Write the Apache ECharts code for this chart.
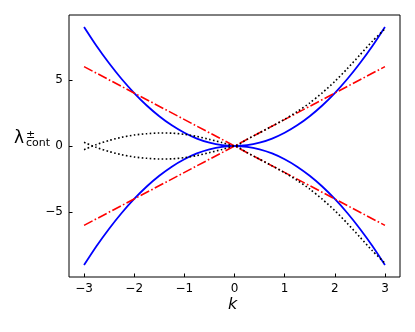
<!DOCTYPE html>
<html>
<head>
<meta charset="utf-8">
<script src="https://cdn.jsdelivr.net/npm/echarts@6/dist/echarts.min.js"></script>
<style>
  html, body { margin: 0; padding: 0; background: #fff; }
  #chart { width: 415px; height: 332px; }
</style>
</head>
<body>
<div id="chart"></div>
<script>
// k samples
var kVals = [-3, -2.75, -2.5, -2.25, -2, -1.75, -1.5, -1.25, -1, -0.75, -0.5, -0.25, 0,
  0.25, 0.5, 0.75, 1, 1.25, 1.5, 1.75, 2, 2.25, 2.5, 2.75, 3]
// blue solid branch (upper one, lower is mirrored)
var blueUpper = [9, 7.56, 6.25, 5.06, 4, 3.06, 2.25, 1.56, 1, 0.56, 0.25, 0.06, 0,
  0.06, 0.25, 0.56, 1, 1.56, 2.25, 3.06, 4, 5.06, 6.25, 7.56, 9]
// black dotted branch
var dotUpper = [-0.28, 0.12, 0.42, 0.66, 0.83, 0.93, 0.98, 0.97, 0.88, 0.72, 0.5, 0.26, 0,
  0.5, 1.0, 1.5, 2.02, 2.6, 3.25, 4.02, 4.88, 5.85, 6.88, 7.92, 8.85]
// red dash-dot lines
var kRed = [-3, 0, 3]
var redRising = [-6, 0, 6]

var xTicks = [-3, -2, -1, 0, 1, 2, 3]
var yTicks = [-5, 0, 5]

function pairs (ks, vs, sign) {
  return ks.map(function (k, i) { return [k, sign * vs[i]] })
}

function fmt (v) {
  return v < 0 ? '\u2212' + Math.abs(v) : String(v)
}

var font = 'DejaVu Sans'

function lineSeries (data, color, width, type, smooth) {
  return {
    type: 'line',
    data: data,
    showSymbol: false,
    smooth: smooth,
    silent: true,
    lineStyle: { color: color, width: width, type: type }
  }
}

var chart = echarts.init(document.getElementById('chart'))
chart.setOption({
  animation: false,
  grid: {
    left: 69, right: 15, top: 15, bottom: 55,
    show: true, borderColor: '#000', borderWidth: 1, backgroundColor: 'transparent'
  },
  xAxis: {
    type: 'value',
    min: -3.3,
    max: 3.3,
    axisLine: { show: false, onZero: false },
    splitLine: { show: false },
    axisTick: { show: true, inside: true, length: 3.5, customValues: xTicks, lineStyle: { color: '#000' } },
    axisLabel: {
      customValues: xTicks, formatter: fmt, color: '#000',
      fontFamily: font, fontSize: 12, margin: 6
    }
  },
  yAxis: {
    type: 'value',
    min: -9.9,
    max: 9.9,
    axisLine: { show: false, onZero: false },
    splitLine: { show: false },
    axisTick: { show: true, inside: true, length: 3.5, customValues: yTicks, lineStyle: { color: '#000' } },
    axisLabel: {
      customValues: yTicks, formatter: fmt, color: '#000',
      fontFamily: font, fontSize: 12, margin: 6
    }
  },
  graphic: [
    { type: 'text', left: 228, top: 297,
      style: { text: 'k', font: 'italic 16px "DejaVu Sans"', fill: '#000' } },
    { type: 'text', left: 14, top: 130,
      style: { text: '\u03bb', font: '17px "DejaVu Sans"', fill: '#000' } },
    { type: 'text', left: 26, top: 130,
      style: { text: '\u00b1', font: '11px "DejaVu Sans"', fill: '#000' } },
    { type: 'text', left: 26, top: 138,
      style: { text: 'cont', font: '11px "DejaVu Sans"', fill: '#000' } }
  ],
  series: [
    lineSeries(pairs(kVals, blueUpper, 1), '#0000ff', 1.8, 'solid', 0.25),
    lineSeries(pairs(kVals, blueUpper, -1), '#0000ff', 1.8, 'solid', 0.25),
    lineSeries(pairs(kRed, redRising, 1), '#ff0000', 1.6, [9.6, 2.4, 1.6, 2.4], false),
    lineSeries(pairs(kRed, redRising, -1), '#ff0000', 1.6, [9.6, 2.4, 1.6, 2.4], false),
    lineSeries(pairs(kVals, dotUpper, 1), '#000000', 1.6, [1.6, 2.4], 0.25),
    lineSeries(pairs(kVals, dotUpper, -1), '#000000', 1.6, [1.6, 2.4], 0.25)
  ]
})
</script>
</body>
</html>
